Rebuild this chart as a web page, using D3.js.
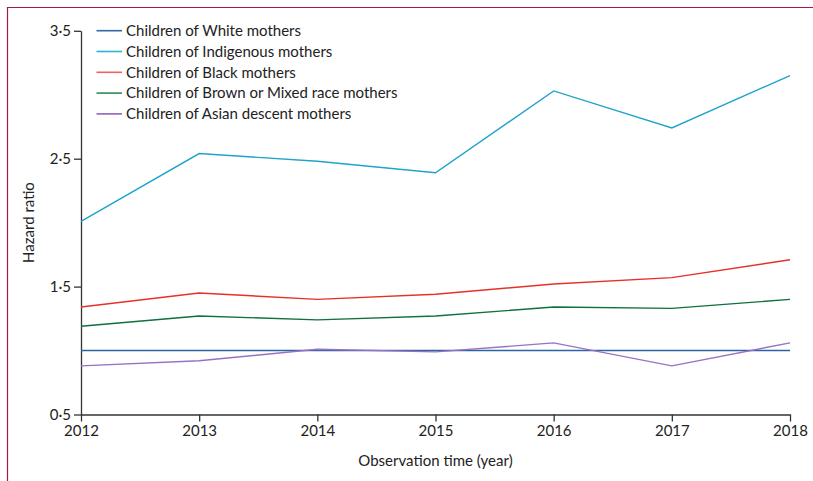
<!DOCTYPE html>
<html><head><meta charset="utf-8">
<script src="https://cdn.jsdelivr.net/npm/d3@7"></script>
<style>
html,body{margin:0;padding:0;background:#fff;}
svg{display:block;}
text{font-family:Lato, "Open Sans", sans-serif;fill:#222;}
</style></head>
<body><svg id="c" width="813" height="481"></svg>
<script>
const years = [2012, 2013, 2014, 2015, 2016, 2017, 2018];
const yTicks = [0.5, 1.5, 2.5, 3.5];
const yTickLabels = ["0·5", "1·5", "2·5", "3·5"];
const seriesNames = ["Children of White mothers", "Children of Indigenous mothers", "Children of Black mothers", "Children of Brown or Mixed race mothers", "Children of Asian descent mothers"];
const white = [1.0, 1.0, 1.0, 1.0, 1.0, 1.0, 1.0];
const indigenous = [2.01, 2.54, 2.48, 2.39, 3.03, 2.74, 3.15];
const black = [1.34, 1.45, 1.40, 1.44, 1.52, 1.57, 1.71];
const brown = [1.19, 1.27, 1.24, 1.27, 1.34, 1.33, 1.40];
const asian = [0.88, 0.92, 1.01, 0.99, 1.06, 0.88, 1.06];
const lineColors = ["#2b64a0", "#1ea3cb", "#e8302a", "#10703f", "#9a70c4"];
const legendColors = ["#2f6aa3", "#2db3d6", "#f0645a", "#2e8a5e", "#9060c0"];

const series = [white, indigenous, black, brown, asian];
const svg = d3.select("#c");

// frame border (top & left)
svg.append("path").attr("d","M7.5,481 L7.5,7.5 L813,7.5").attr("fill","none").attr("stroke","#a8183e").attr("stroke-width",1.2);

const x = d3.scaleLinear().domain([2012, 2018]).range([81, 790]);
const y = d3.scaleLinear().domain([0.5, 3.5]).range([414.5, 30.8]);

const axisColor = "#333";
const gx = svg.append("g").attr("transform","translate(0,414.5)")
  .call(d3.axisBottom(x).tickValues(years).tickFormat(d3.format("d")).tickSizeInner(7).tickSizeOuter(0).tickPadding(4));
const gy = svg.append("g").attr("transform","translate(81,0)")
  .call(d3.axisLeft(y).tickValues(yTicks).tickFormat((d,i)=>yTickLabels[i]).tickSizeInner(7).tickSizeOuter(0).tickPadding(3));
[gx, gy].forEach(g=>{
  g.selectAll("path,line").attr("stroke",axisColor).attr("stroke-width",1.3);
  g.selectAll("text").attr("font-family","Lato, sans-serif").attr("font-size",15).attr("fill","#222");
});

const line = d3.line().x((d,i)=>x(years[i])).y(d=>y(d));
series.forEach((s,k)=>{
  svg.append("path").datum(s).attr("d",line).attr("fill","none")
    .attr("stroke",lineColors[k]).attr("stroke-width",1.4);
});

// legend
const lg = svg.append("g");
seriesNames.forEach((n,k)=>{
  const yy = 30.7 + k*20.8;
  lg.append("line").attr("x1",96.5).attr("x2",122).attr("y1",yy).attr("y2",yy)
    .attr("stroke",legendColors[k]).attr("stroke-width",1.6);
  lg.append("text").attr("x",126).attr("y",yy).attr("dy","0.35em")
    .attr("font-size",15).text(n);
});

svg.append("text").attr("transform","translate(34,222.5) rotate(-90)")
  .attr("text-anchor","middle").attr("font-size",15).text("Hazard ratio");
svg.append("text").attr("x",435.5).attr("y",466).attr("text-anchor","middle")
  .attr("font-size",15).text("Observation time (year)");
</script></body></html>
